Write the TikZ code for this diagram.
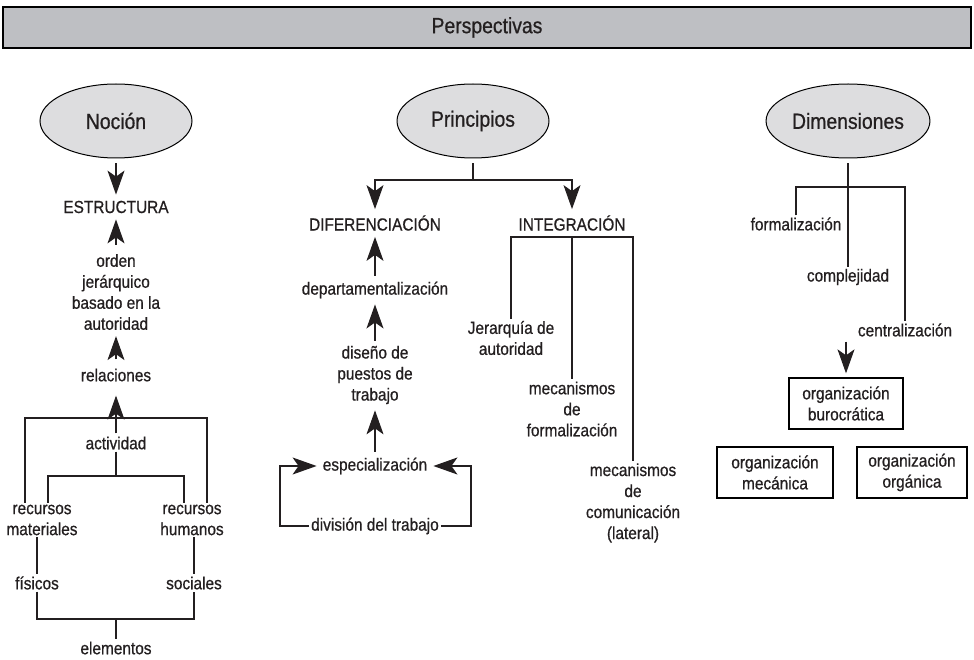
\documentclass[tikz,border=0pt]{standalone}
\usepackage{fontspec}
\setmainfont{Liberation Sans}[FakeStretch=0.88,FakeBold=0.7]
\usetikzlibrary{shapes.geometric,arrows.meta}
\definecolor{bargray}{RGB}{190,191,195}
\definecolor{ovalgray}{RGB}{221,221,223}
\definecolor{ink}{RGB}{35,31,32}
\begin{document}
\begin{tikzpicture}[x=1pt,y=-1pt,
  every node/.style={font=\fontsize{17.5}{21}\selectfont,align=center,inner sep=2pt,text=ink},
  oval/.style={draw,shape=ellipse,fill=ovalgray,line width=1pt,
    minimum width=152pt,minimum height=74pt,font=\fontsize{22}{24}\selectfont},
  orgbox/.style={draw,shape=rectangle,line width=1.3pt,minimum height=51pt},
  conn/.style={line width=1.1pt,draw=ink},
  arr/.style={conn,-{Stealth[length=24pt,width=17pt,inset=6pt]},shorten >=4pt}]
  \useasboundingbox (0,0) rectangle (974,660);
  \node[draw,shape=rectangle,fill=bargray,line width=1.2pt,minimum width=968pt,
    minimum height=41pt,font=\fontsize{22}{24}\selectfont] (persp) at (487,27.5) {Perspectivas};
  \node[oval] (nocion)      at (116,121) {Noción};
  \node[oval] (principios)  at (473,121) {Principios};
  \node[oval] (dimensiones) at (848,121) {Dimensiones};

  \node (estructura) at (116,207) {ESTRUCTURA};
  \node (orden)      at (116,292) {orden\\jerárquico\\basado en la\\autoridad};
  \node (relaciones) at (116,375) {relaciones};
  \node (actividad)  at (116,443) {actividad};
  \node (recmat)     at (42,520)  {recursos\\materiales};
  \node (rechum)     at (192,520) {recursos\\humanos};
  \node (fisicos)    at (37,583)  {físicos};
  \node (sociales)   at (194,583) {sociales};
  \node (elementos)  at (116,648) {elementos};

  \node (dif)      at (375,223) {DIFERENCIACIÓN};
  \node (integ)    at (572,223) {INTEGRACIÓN};
  \node (dep)      at (375,290) {departamentalización};
  \node (diseno)   at (375,375) {diseño de\\puestos de\\trabajo};
  \node (espec)    at (375,466) {especialización};
  \node (division) at (375,526) {división del trabajo};
  \node (jer)      at (511,338) {Jerarquía de\\autoridad};
  \node (mecf)     at (572,409) {mecanismos\\de\\formalización};
  \node (mecc)     at (633,503) {mecanismos\\de\\comunicación\\(lateral)};

  \node (form)    at (796,224) {formalización};
  \node (compl)   at (848,277) {complejidad};
  \node (central) at (905,330) {centralización};
  \node[orgbox,minimum width=114pt] (buro) at (846,403.5) {organización\\burocrática};
  \node[orgbox,minimum width=116pt] (mec)  at (775,472.5) {organización\\mecánica};
  \node[orgbox,minimum width=110pt] (org)  at (912,472.5) {organización\\orgánica};

  \coordinate (outL)  at (25,418);
  \coordinate (outR)  at (207,418);
  \coordinate (inL)   at (48,476);
  \coordinate (inR)   at (184,476);
  \coordinate (elbar) at (116,619);
  \coordinate (pbar)  at (473,180);
  \coordinate (espL)  at (280,466);
  \coordinate (espR)  at (471,466);
  \coordinate (ibar)  at (572,237);
  \coordinate (dbar)  at (848,187);

  \draw[arr,shorten <=5pt] (nocion.south) -- (estructura.north);
  \draw[arr,shorten <=7pt] (orden.north) -- (estructura.south);
  \draw[arr,shorten <=7pt] (relaciones.north) -- (orden.south);
  \draw[arr,shorten <=1pt,shorten >=12pt] (actividad.north) -- (relaciones.south);
  \draw[conn] (recmat.north -| outL) |- (outR) -- (rechum.north -| outR);
  \draw[conn] (recmat.north -| inL) |- (inR) -- (rechum.north -| inR);
  \draw[conn] (actividad.south) -- (actividad |- inL);
  \draw[conn] (recmat.south -| fisicos) -- (fisicos.north);
  \draw[conn] (rechum.south -| sociales) -- (sociales.north);
  \draw[conn] (fisicos.south) |- (elbar) -| (sociales.south);
  \draw[conn] (elbar) -- (elementos.north);

  \draw[conn,shorten <=5pt] (principios.south) -- (pbar);
  \draw[arr] (pbar) -| (dif.north);
  \draw[arr] (pbar) -| (integ.north);
  \draw[arr,shorten <=4pt] (dep.north) -- (dif.south);
  \draw[arr,shorten <=3pt] (diseno.north) -- (dep.south);
  \draw[arr,shorten <=4pt] (espec.north) -- (diseno.south);
  \draw[arr] (division.west) -| (espL) -- (espec.west);
  \draw[arr] (division.east) -| (espR) -- (espec.east);
  \draw[conn] (jer.north) |- (ibar) -| (mecc.north);
  \draw[conn] (ibar) -- (mecf.north);

  \draw[conn,shorten <=5pt] (dimensiones.south) -- (compl.north);
  \draw[conn] (form.north) |- (dbar) -| (central.north);
  \draw[arr,shorten <=3pt] (buro.north |- central.south) -- (buro.north);
\end{tikzpicture}
\end{document}
